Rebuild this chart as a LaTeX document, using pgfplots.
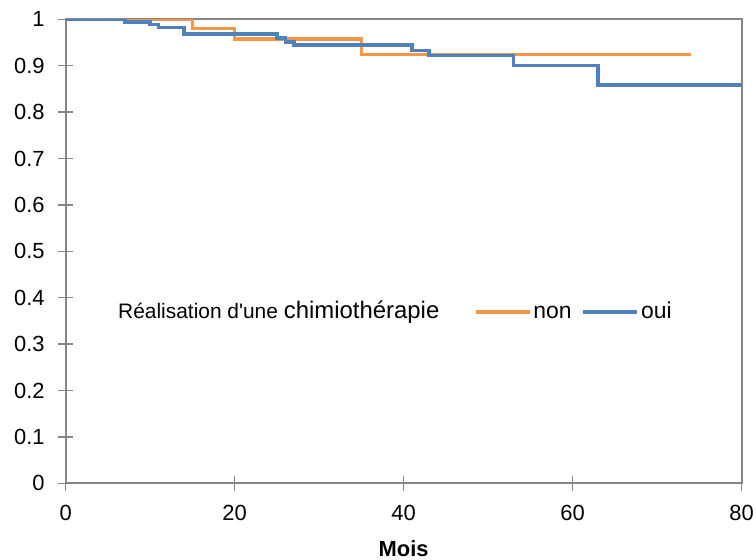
\documentclass[border=0pt]{standalone}
\usepackage{fontspec}
\setmainfont{Liberation Sans}[Ligatures=TeXOff]
\usepackage{pgfplots}
\pgfplotsset{compat=1.18}
\definecolor{korange}{RGB}{247,150,70}
\definecolor{kblue}{RGB}{79,129,189}
\definecolor{axgray}{RGB}{134,134,134}
\begin{document}
\begin{tikzpicture}
\begin{axis}[
  scale only axis, width=675.8bp, height=464bp,
  xmin=0, xmax=80, ymin=0, ymax=1,
  xtick={0,20,40,60,80},
  ytick={0,0.1,0.2,0.3,0.4,0.5,0.6,0.7,0.8,0.9,1},
  yticklabels={0,0.1,0.2,0.3,0.4,0.5,0.6,0.7,0.8,0.9,1},
  tick pos=left,
  axis line style={axgray, line width=2bp},
  tick style={axgray, line width=1.5bp},
  major tick length=15bp,
  tick align=center,
  ticklabel style={font=\fontsize{22}{26}\selectfont},
  xticklabel style={yshift=-11bp},
  yticklabel style={xshift=-10bp},
  /pgf/number format/assume math mode=true,
  xlabel={Mois},
  xlabel style={font=\fontsize{22}{26}\selectfont\bfseries, at={(axis description cs:0.5,0)}, anchor=center, yshift=-65bp},
  legend style={at={(axis cs:48.3,0.369)}, anchor=west, draw=none, fill=none, inner sep=0pt,
    font=\fontsize{23}{26}\selectfont, legend columns=-1,
    nodes={text height=12bp, text depth=0bp, anchor=base west},
    /tikz/every even column/.append style={column sep=8bp}},
  legend image code/.code={\draw[#1] (0bp,6bp) -- (54bp,6bp);},
]
\addplot[const plot, korange, line width=3.5bp] coordinates {
  (0,1) (15,0.980) (20,0.958) (35,0.924) (74,0.924)
};
\addlegendentry{non}
\addplot[const plot, kblue, line width=3.5bp] coordinates {
  (0,1) (7,0.994) (10,0.989) (11,0.982) (14,0.968) (25,0.960) (26,0.951) (27,0.945)
  (41,0.933) (43,0.922) (53,0.900) (63,0.858) (80,0.858)
};
\addlegendentry{oui}
\node[anchor=west, inner sep=0pt] at (axis cs:6.19,0.369) {{\fontsize{21}{24}\selectfont Réalisation d'une }{\fontsize{24}{26}\selectfont chimiothérapie}};
\end{axis}
\pgfresetboundingbox
\path[use as bounding box] ([shift={(-65.7bp,-76.7bp)}]current axis.south west) rectangle ([shift={(14.5bp,19.3bp)}]current axis.north east);
\end{tikzpicture}
\end{document}
